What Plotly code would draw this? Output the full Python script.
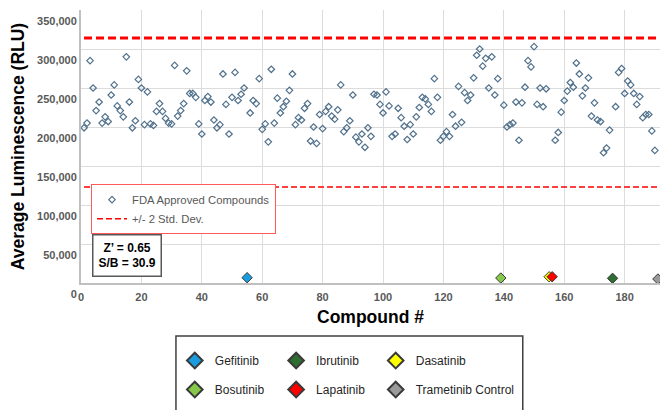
import plotly.graph_objects as go

# ---------------- data ----------------
control_names = ["Gefitinib", "Ibrutinib", "Dasatinib", "Bosutinib", "Lapatinib", "Trametinib Control"]
control_compounds = [55, 176, 155, 139, 156, 191]
control_values = [6800, 6000, 8000, 6400, 8000, 5100]
control_colors = ["#1a9de0", "#2e6e30", "#ffff00", "#86c84a", "#ff0000", "#9a9a9a"]
control_legends = ["legend2", "legend3", "legend4", "legend2", "legend3", "legend4"]

fda_values = [
    199, 205, 285, 250, 221, 232, 205, 213, 207, 241,
    254, 227, 221, 213, 290, 232, 199, 208, 261, 250,
    203, 245, 204, 202, 220, 230, 220, 211, 205, 204,
    279, 214, 221, 230, 272, 243, 243, 238, 204, 191,
    234, 239, 232, 209, 199, 203, 268, 229, 191, 238,
    270, 234, 242, 250,
    218, 234, 230, 262, 197, 204, 181, 274, 205, 237,
    218, 226, 233, 247, 268, 203, 212, 209, 224, 230,
    182, 200, 179, 216, 198, 220, 226, 214, 210, 222,
    254, 194, 199, 208, 241, 187, 181, 191, 174, 199,
    188, 242, 241, 229, 218, 245, 227, 188, 191, 224,
    212, 201, 184, 203, 191, 213, 225, 238, 236, 229,
    220, 262, 238, 183, 188, 194, 188, 216, 201, 252,
    206, 244, 234, 241, 263, 292, 300, 278, 288, 250,
    290, 241, 262,
    228, 200, 203, 205, 232, 183, 231, 251, 285, 277,
    303, 229, 250, 226, 249,
    183, 193, 219, 234, 246, 257, 251, 282, 268, 240,
    250, 263, 214, 231, 209, 207, 167, 173, 196,
    226, 270, 275, 243, 259, 254, 243, 229, 239, 212,
    216, 216, 195, 170,
]
fda_values = [v * 1000 for v in fda_values]
fda_compounds = [i for i in range(1, 191) if i not in control_compounds]

sd_upper = 314000
sd_lower = 123000
x_max = 191.7
x_ticks = list(range(0, 181, 20))

# ---------------- figure ----------------
fig = go.Figure()

fig.add_trace(go.Scatter(
    x=fda_compounds, y=fda_values, mode="markers", name="FDA Approved Compounds",
    marker=dict(symbol="diamond-open", size=5, color="#51718c", line=dict(width=1.2, color="#51718c")),
    legend="legend",
))
fig.add_trace(go.Scatter(
    x=[1, x_max], y=[sd_upper, sd_upper], mode="lines", showlegend=False,
    line=dict(color="#ff0000", width=3, dash="8px,4px"), hoverinfo="skip",
))
fig.add_trace(go.Scatter(
    x=[1, x_max], y=[sd_lower, sd_lower], mode="lines", name="+/- 2 Std. Dev.",
    line=dict(color="#ff0000", width=1.5, dash="6px,3px"), legend="legend",
))

for name, cx, cy, col, lg in zip(control_names, control_compounds, control_values, control_colors, control_legends):
    fig.add_trace(go.Scatter(
        x=[cx], y=[cy], mode="markers", name=name, legend=lg, legendgroup=name,
        marker=dict(symbol="diamond", size=8, color=col, line=dict(width=1, color="#3a3a3a")),
    ))

tickfont = dict(family="Arial", size=11, color="#595959", weight="bold")
titlefont = dict(family="Arial", size=17.5, color="#000000", weight="bold")

fig.update_layout(
    width=660, height=410,
    margin=dict(l=81, r=0, t=10, b=127, autoexpand=False),
    paper_bgcolor="white", plot_bgcolor="white",
    xaxis=dict(
        range=[0, x_max], tickvals=x_ticks, showgrid=True, gridcolor="#dcdcdc", gridwidth=1,
        showline=True, linecolor="#c0c0c0", linewidth=2, zeroline=False, ticks="",
        tickfont=tickfont, automargin=False, ticklabelstandoff=3,
        title=dict(text="Compound #", font=titlefont, standoff=9),
    ),
    yaxis=dict(
        range=[0, 350000], dtick=50000, tickformat=",", showgrid=True, gridcolor="#dcdcdc", gridwidth=1,
        showline=True, linecolor="#c0c0c0", linewidth=2, zeroline=False, ticks="",
        tickfont=tickfont, ticklabelshift=11, automargin=False,
        title=dict(text="Average Luminescence (RLU)", font=titlefont, standoff=8),
    ),
    legend=dict(
        x=0.0173, y=0.362, xanchor="left", yanchor="top",
        bordercolor="#ff5a5a", borderwidth=1, bgcolor="white",
        font=dict(family="Arial", size=11.3, color="#595959"),
    ),
    legend2=dict(
        x=0.162, y=-0.231, xanchor="left", yanchor="top", bgcolor="rgba(0,0,0,0)",
        borderwidth=0, itemsizing="constant", tracegroupgap=10,
        font=dict(family="Arial", size=12, color="#262626"),
    ),
    legend3=dict(
        x=0.337, y=-0.231, xanchor="left", yanchor="top", bgcolor="rgba(0,0,0,0)",
        borderwidth=0, itemsizing="constant", tracegroupgap=10,
        font=dict(family="Arial", size=12, color="#262626"),
    ),
    legend4=dict(
        x=0.509, y=-0.231, xanchor="left", yanchor="top", bgcolor="rgba(0,0,0,0)",
        borderwidth=0, itemsizing="constant", tracegroupgap=10,
        font=dict(family="Arial", size=12, color="#262626"),
    ),
    shapes=[dict(
        type="rect", xref="paper", yref="paper", x0=0.164, x1=0.763, y0=-0.194, y1=-0.62,
        line=dict(color="#404040", width=1.5), fillcolor="rgba(0,0,0,0)",
    )],
    annotations=[dict(
        xref="paper", yref="paper", x=0.019, y=0.1795, xanchor="left", yanchor="top",
        text="<b>Z’ = 0.65<br>S/B = 30.9</b>", showarrow=False, align="center",
        font=dict(family="Arial", size=12, color="#000000"),
        bordercolor="#595959", borderwidth=1.5, borderpad=5, bgcolor="white",
    )],
)

fig.write_html(
    "out.html",
    config={"displayModeBar": False},
    post_script="document.body.style.margin='0';document.body.style.overflow='hidden';",
)
